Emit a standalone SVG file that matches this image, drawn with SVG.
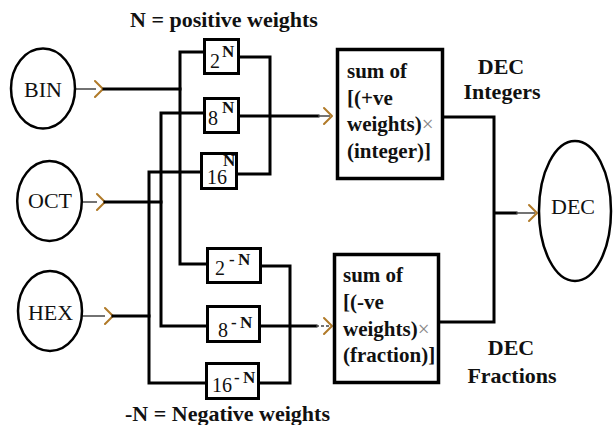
<svg xmlns="http://www.w3.org/2000/svg" width="614" height="425" viewBox="0 0 614 425">
  <defs>
    <style>
      .wire { fill: none; stroke: #000; stroke-width: 3; stroke-linecap: square; }
      .lead { fill: none; stroke: #444; stroke-width: 1.5; }
      .head { fill: none; stroke: #b07a28; stroke-width: 2; stroke-linecap: round; stroke-linejoin: round; }
      .term { fill: #fff; stroke: #000; stroke-width: 2.5; }
      .box { fill: #fff; stroke: #000; stroke-width: 3; }
      .sum { fill: #fff; stroke: #000; stroke-width: 3.5; }
      text { font-family: 'Liberation Serif', 'DejaVu Serif', serif; fill: #111; }
      .lbl { font-size: 22px; }
      .b { font-weight: bold; }
      .body { font-size: 21px; font-weight: bold; }
      .base { font-size: 20px; }
      .sup { font-size: 17px; font-weight: bold; }
      .times { fill: #888; font-weight: normal; }
    </style>
  </defs>

  <!-- captions -->
  <text class="lbl b" x="130" y="27">N = positive weights</text>
  <text class="lbl b" x="125" y="421">-N = Negative weights</text>
  <text class="lbl b" x="501" y="74" text-anchor="middle">DEC</text>
  <text class="lbl b" x="502" y="98.5" text-anchor="middle">Integers</text>
  <text class="lbl b" x="511" y="355" text-anchor="middle">DEC</text>
  <text class="lbl b" x="512" y="383" text-anchor="middle">Fractions</text>

  <!-- connectors -->
  <g id="connectors">
    <!-- inputs -->
    <path class="lead" d="M75 89 H96 M82 202 H97 M82 316 H105"/>
    <path class="head" d="M95 81 L103 89 L95 97 M97 194 L105 202 L97 210 M105 308 L113 316 L105 324"/>
    <path class="wire" d="M104 89 H180 M105 202 H161 M113 316 H149"/>
    <!-- distribution buses -->
    <path class="wire" d="M180 52 V264 M203 52 H180 M180 264 H207"/>
    <path class="wire" d="M161 113 V326 M203 113 H161 M161 326 H206"/>
    <path class="wire" d="M149 172 V383 M200 172 H149 M149 383 H205"/>
    <!-- positive weight collector -->
    <path class="wire" d="M240 57 H270 V174 H238 M240 116 H318"/>
    <path class="lead" d="M318 116 H330"/>
    <path class="head" d="M324 108 L332 116 L324 124"/>
    <!-- negative weight collector -->
    <path class="wire" d="M262 266 H290 V383 H260 M261 326 H316"/>
    <path class="lead" d="M316 326 H329" stroke-dasharray="3 2"/>
    <path class="head" d="M324 318 L332 326 L324 334"/>
    <!-- merge to DEC -->
    <path class="wire" d="M444 117 H494 V322 H440 M494 213 H516"/>
    <path class="lead" d="M516 213 H535"/>
    <path class="head" d="M529 205 L537 213 L529 221"/>
  </g>

  <g id="bin">
    <ellipse class="term" cx="43" cy="88.5" rx="32" ry="40"/>
    <text class="lbl" x="43" y="97" text-anchor="middle">BIN</text>
  </g>
  <g id="oct">
    <ellipse class="term" cx="49.5" cy="201" rx="32.3" ry="40"/>
    <text class="lbl" x="50" y="208" text-anchor="middle">OCT</text>
  </g>
  <g id="hex">
    <ellipse class="term" cx="50" cy="311" rx="32" ry="40"/>
    <text class="lbl" x="50.5" y="320" text-anchor="middle">HEX</text>
  </g>
  <g id="dec">
    <ellipse class="term" cx="575" cy="211" rx="36" ry="70"/>
    <text class="lbl" x="573" y="214" text-anchor="middle">DEC</text>
  </g>

  <!-- positive weights -->
  <g id="w2p">
    <rect class="box" x="204.5" y="39.5" width="34" height="34"/>
    <text class="base" x="210" y="68">2</text>
    <text class="sup" x="222" y="57">N</text>
  </g>
  <g id="w8p">
    <rect class="box" x="204.5" y="98.5" width="34" height="34"/>
    <text class="base" x="208" y="125">8</text>
    <text class="sup" x="222" y="113">N</text>
  </g>
  <g id="w16p">
    <rect class="box" x="201.5" y="153.5" width="35" height="35"/>
    <text class="base" x="207" y="184">16</text>
    <text class="sup" x="223" y="166">N</text>
  </g>

  <!-- negative weights -->
  <g id="w2n">
    <rect class="box" x="207.5" y="248.5" width="53" height="34"/>
    <text class="base" x="215" y="275">2</text>
    <text class="sup" x="229" y="265">-</text>
    <text class="sup" x="238" y="265">N</text>
  </g>
  <g id="w8n">
    <rect class="box" x="207.5" y="306.5" width="52" height="35"/>
    <text class="base" x="218" y="337">8</text>
    <text class="sup" x="231" y="328">-</text>
    <text class="sup" x="240" y="328">N</text>
  </g>
  <g id="w16n">
    <rect class="box" x="206.5" y="363.5" width="52" height="35"/>
    <text class="base" x="212" y="392">16</text>
    <text class="sup" x="234" y="383">-</text>
    <text class="sup" x="243" y="383">N</text>
  </g>

  <!-- summing blocks -->
  <g id="sum-int">
    <rect class="sum" x="337.5" y="49.5" width="105" height="129"/>
    <text class="body" x="347" y="78">sum of</text>
    <text class="body" x="347" y="104.5">[(+ve</text>
    <text class="body" x="347" y="131">weights)<tspan class="times">×</tspan></text>
    <text class="body" x="347" y="157.5">(integer)]</text>
  </g>
  <g id="sum-frac">
    <rect class="sum" x="334.5" y="254.5" width="104" height="128"/>
    <text class="body" x="343" y="282">sum of</text>
    <text class="body" x="343" y="309">[(-ve</text>
    <text class="body" x="343" y="336">weights)<tspan class="times">×</tspan></text>
    <text class="body" x="343" y="362">(fraction)]</text>
  </g>
</svg>
